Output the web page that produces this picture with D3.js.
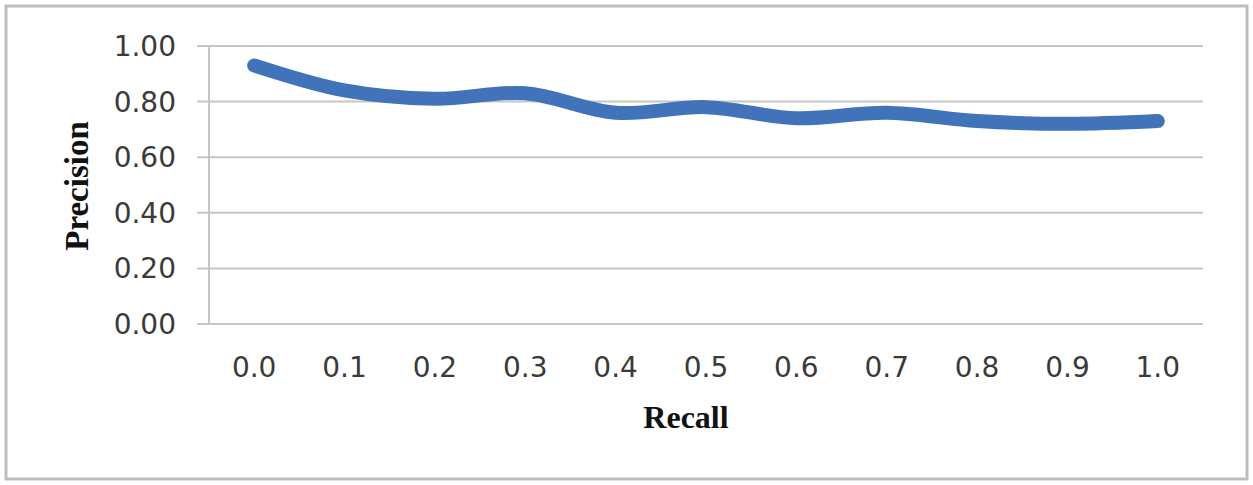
<!DOCTYPE html>
<html><head><meta charset="utf-8">
<script src="https://cdn.jsdelivr.net/npm/d3@7"></script>
<style>
html,body{margin:0;padding:0;background:#fff;}
svg{display:block;}
</style></head>
<body>
<svg id="chart" width="1253" height="485"></svg>
<script>
const categories = ["0.0","0.1","0.2","0.3","0.4","0.5","0.6","0.7","0.8","0.9","1.0"];
const precision = [0.93,0.84,0.81,0.83,0.76,0.78,0.74,0.76,0.73,0.72,0.73];
const yTicks = [0,0.2,0.4,0.6,0.8,1.0];
const xTitle = "Recall";
const yTitle = "Precision";

const svg = d3.select("#chart");
const W = 1253, H = 485;
const m = {left:209, right:50, top:46, bottom:161};

svg.append("rect").attr("x",6).attr("y",6).attr("width",W-12).attr("height",H-12)
  .attr("fill","#fff").attr("stroke","#bdbdbd").attr("stroke-width",3);

const x = d3.scaleBand().domain(categories).range([m.left, W-m.right]);
const y = d3.scaleLinear().domain([0,1]).range([H-m.bottom, m.top]);

// gridlines
svg.append("g").selectAll("line").data(yTicks).join("line")
  .attr("x1",m.left-12).attr("x2",W-m.right)
  .attr("y1",d=>y(d)).attr("y2",d=>y(d))
  .attr("stroke","#c6c6c6").attr("stroke-width",2);

// y axis line
svg.append("line").attr("x1",m.left).attr("x2",m.left)
  .attr("y1",y(1)).attr("y2",y(0)).attr("stroke","#c6c6c6").attr("stroke-width",2);

// y tick labels
svg.append("g").selectAll("text").data(yTicks).join("text")
  .attr("x",176).attr("y",d=>y(d)).attr("dy","0.36em")
  .attr("text-anchor","end")
  .attr("font-family","DejaVu Sans").attr("font-size",28)
  .attr("fill","#3a3a3a")
  .text(d=>d3.format(".2f")(d));

// x tick labels
svg.append("g").selectAll("text").data(categories).join("text")
  .attr("x",d=>x(d)+x.bandwidth()/2).attr("y",377)
  .attr("text-anchor","middle")
  .attr("font-family","DejaVu Sans").attr("font-size",28)
  .attr("fill","#3a3a3a")
  .text(d=>d);

// line
const line = d3.line()
  .x((d,i)=>x(categories[i])+x.bandwidth()/2)
  .y(d=>y(d))
  .curve(d3.curveCatmullRom.alpha(0.5));
svg.append("path").datum(precision)
  .attr("d",line).attr("fill","none")
  .attr("stroke","#4073b9").attr("stroke-width",14)
  .attr("stroke-linecap","round").attr("stroke-linejoin","round");

// titles
svg.append("text").attr("x",686).attr("y",428).attr("text-anchor","middle")
  .attr("font-family","Liberation Serif").attr("font-weight","bold").attr("font-size",32)
  .attr("fill","#111").text(xTitle);
svg.append("text").attr("transform","translate(88,186) rotate(-90)")
  .attr("text-anchor","middle")
  .attr("font-family","Liberation Serif").attr("font-weight","bold").attr("font-size",33)
  .attr("fill","#111").text(yTitle);
</script>
</body></html>
